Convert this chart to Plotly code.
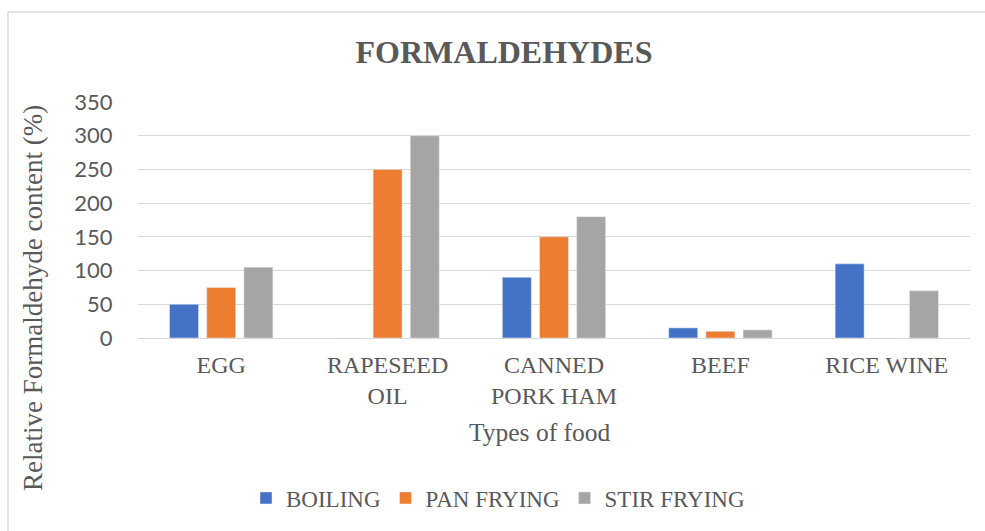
import plotly.graph_objects as go

categories = ["EGG", "RAPESEED<br>OIL", "CANNED<br>PORK HAM", "BEEF", "RICE WINE"]
boiling = [50, 0, 90, 15, 110]
pan_frying = [75, 250, 150, 10, 0]
stir_frying = [105, 300, 180, 12, 70]
y_ticks = [0, 50, 100, 150, 200, 250, 300, 350]

W, H = 985, 531
L, R, T, B = 138, 15, 102, 193
pw, ph = W - L - R, H - T - B

def px(x):
    return (x - L) / pw

def py(y):
    return (H - B - y) / ph

serif = "Liberation Serif, Times New Roman, serif"
grey = "#595959"

fig = go.Figure()
fig.add_trace(go.Bar(name="BOILING", x=categories, y=boiling, marker_color="#4472C4"))
fig.add_trace(go.Bar(name="PAN FRYING", x=categories, y=pan_frying, marker_color="#ED7D31"))
fig.add_trace(go.Bar(name="STIR FRYING", x=categories, y=stir_frying, marker_color="#A5A5A5"))

fig.update_layout(
    width=W, height=H,
    margin=dict(l=L, r=R, t=T, b=B),
    paper_bgcolor="white", plot_bgcolor="white",
    barmode="group", bargap=0.33, bargroupgap=0.22,
    title=dict(text="<b>FORMALDEHYDES</b>", x=504 / W, xanchor="center",
               y=1 - 52 / H, yanchor="middle",
               font=dict(family=serif, size=32, color=grey)),
    showlegend=True,
    legend=dict(orientation="h", x=px(498), xanchor="center", y=py(498), yanchor="middle",
                font=dict(family=serif, size=23, color=grey), traceorder="normal",
                itemwidth=30),
    xaxis=dict(showgrid=False, showline=False, ticks="outside", ticklen=5, tickcolor="white",
               tickfont=dict(family=serif, size=24, color=grey)),
    yaxis=dict(range=[0, 350], tickvals=y_ticks, showgrid=True, gridcolor="#D9D9D9", gridwidth=1.3,
               zeroline=True, zerolinecolor="#D9D9D9", zerolinewidth=1.3,
               ticks="outside", ticklen=20, tickcolor="white",
               tickfont=dict(family="Lato, Liberation Sans, sans-serif", size=22, color=grey)),
    annotations=[
        dict(text="Types of food", xref="paper", yref="paper", x=px(540), y=py(432),
             xanchor="center", yanchor="middle", showarrow=False,
             font=dict(family=serif, size=25.5, color=grey)),
        dict(text="Relative Formaldehyde content (%)", xref="paper", yref="paper",
             x=px(33), y=py(298), xanchor="center", yanchor="middle", textangle=-90,
             showarrow=False, font=dict(family=serif, size=27, color=grey)),
    ],
    shapes=[
        dict(type="line", xref="paper", yref="paper", x0=px(8), x1=px(1000), y0=py(12), y1=py(12),
             line=dict(color="#D9D9D9", width=1.5)),
        dict(type="line", xref="paper", yref="paper", x0=px(8), x1=px(8), y0=py(12), y1=py(540),
             line=dict(color="#D9D9D9", width=1.5)),
    ],
)

fig.write_html("out.html")
